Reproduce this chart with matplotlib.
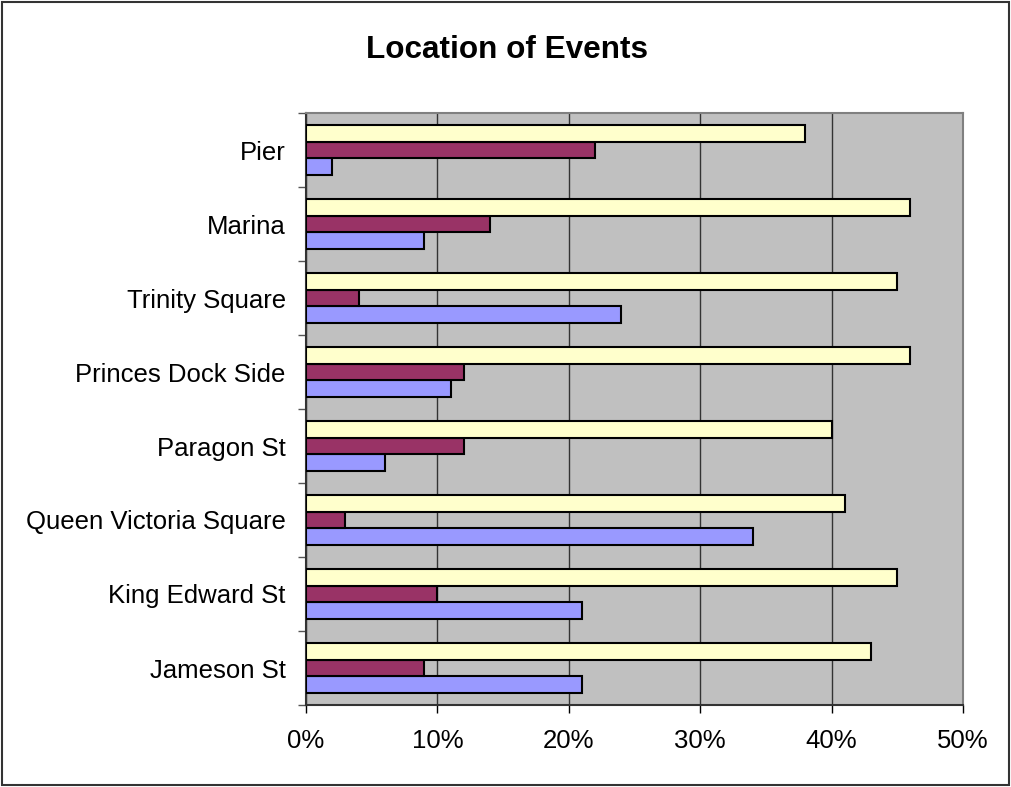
import numpy as np
import matplotlib.pyplot as plt
from matplotlib.ticker import PercentFormatter

plt.rcParams['font.family'] = ['Liberation Sans', 'DejaVu Sans']

# categories from bottom to top, as drawn
locations = ["Jameson St", "King Edward St", "Queen Victoria Square", "Paragon St",
             "Princes Dock Side", "Trinity Square", "Marina", "Pier"]
blue = [21, 21, 34, 6, 11, 24, 9, 2]
maroon = [9, 10, 3, 12, 12, 4, 14, 22]
yellow = [43, 45, 41, 40, 46, 45, 46, 38]

fig = plt.figure(figsize=(10.11, 7.87), dpi=100)
ax = fig.add_axes([306/1011, 1 - 705/787, 657/1011, 592/787])

y = np.arange(len(locations))
h = 0.228
ax.barh(y - h, blue, h, color='#9999FF', edgecolor='black', linewidth=1.5, zorder=3)
ax.barh(y, maroon, h, color='#993366', edgecolor='black', linewidth=1.5, zorder=3)
ax.barh(y + h, yellow, h, color='#FFFFCC', edgecolor='black', linewidth=1.5, zorder=3)

ax.set_facecolor('#C0C0C0')
ax.set_xlim(0, 50)
ax.set_ylim(-0.5, len(locations) - 0.5)
ax.set_xticks(np.arange(0, 51, 10))
ax.xaxis.set_major_formatter(PercentFormatter(decimals=0))
ax.grid(axis='x', color='#333333', linewidth=1, zorder=1)

ax.set_yticks(y)
ax.set_yticklabels(locations)
ax.set_yticks(np.arange(-0.5, len(locations), 1), minor=True)
ax.tick_params(axis='y', which='major', length=0, pad=14.5, labelsize=18.5)
ax.tick_params(axis='y', which='minor', length=6, width=1, color='#555555')
ax.tick_params(axis='x', length=6, width=1, pad=11, labelsize=18.5)

for s in ['top', 'right']:
    ax.spines[s].set_color('#808080')
    ax.spines[s].set_linewidth(1.5)
for s in ['left', 'bottom']:
    ax.spines[s].set_color('#333333')
    ax.spines[s].set_linewidth(1.5)

fig.text(507/1011, 1 - 50/787, "Location of Events", ha='center', va='center',
         fontsize=22.7, fontweight='bold')

fig.patches.append(plt.Rectangle((0.002, 0.003), 0.996, 0.994, transform=fig.transFigure,
                                 fill=False, edgecolor='#333333', linewidth=1.5))

plt.savefig('out.png', dpi=100)
